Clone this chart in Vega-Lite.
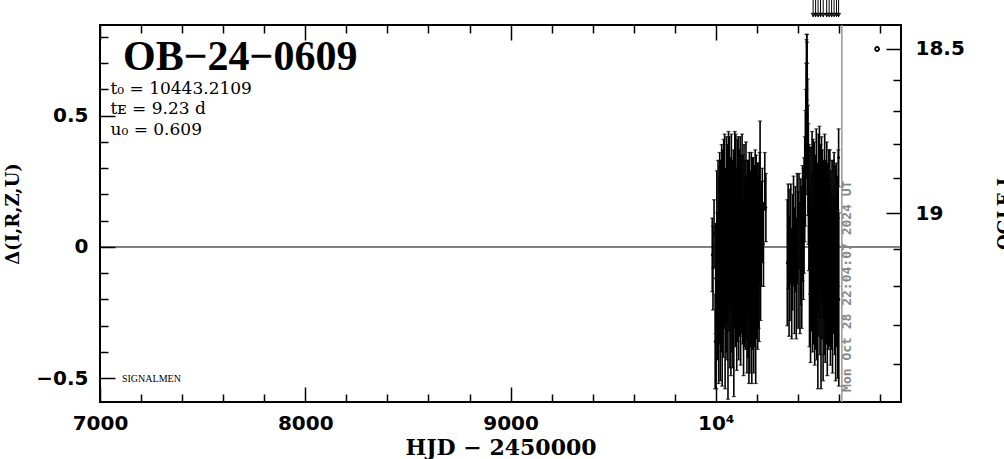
{
  "$schema": "https://vega.github.io/schema/vega-lite/v6.json",
  "width": 801,
  "height": 377,
  "autosize": {"type": "none"},
  "padding": {"left": 100, "top": 25, "right": 103, "bottom": 57},
  "background": "white",
  "data": {"values": [{}]},
  "config": {
    "view": {"stroke": "black", "strokeWidth": 2},
    "axis": {
      "domain": false, "grid": false, "tickColor": "black", "tickWidth": 1.5,
      "labelFont": "DejaVu Sans", "labelFontWeight": "bold", "labelFontSize": 20, "labelColor": "black",
      "titleFont": "DejaVu Serif", "titleFontWeight": "bold", "titleColor": "black",
      "labelFlush": false, "labelOverlap": false
    }
  },
  "datasets": {
    "obs": [
      {"t": 9982.4, "d": -0.03, "e": 0.14}, {"t": 9986.1, "d": -0.08, "e": 0.16}, {"t": 9991.3, "d": 0.05, "e": 0.13},
      {"t": 9996.7, "d": -0.36, "e": 0.18}, {"t": 9999.2, "d": -0.12, "e": 0.21}, {"t": 10001.5, "d": -0.30, "e": 0.24},
      {"t": 10004.8, "d": 0.02, "e": 0.27}, {"t": 10007.3, "d": -0.15, "e": 0.28}, {"t": 10010.9, "d": 0.08, "e": 0.25},
      {"t": 10013.6, "d": -0.22, "e": 0.30}, {"t": 10016.2, "d": -0.05, "e": 0.32}, {"t": 10018.8, "d": 0.10, "e": 0.26},
      {"t": 10021.4, "d": -0.18, "e": 0.33}, {"t": 10023.7, "d": 0.04, "e": 0.29}, {"t": 10026.1, "d": -0.09, "e": 0.31},
      {"t": 10028.5, "d": 0.15, "e": 0.24}, {"t": 10030.9, "d": -0.25, "e": 0.28}, {"t": 10033.2, "d": 0.02, "e": 0.35},
      {"t": 10035.6, "d": -0.12, "e": 0.30}, {"t": 10038.0, "d": 0.08, "e": 0.33}, {"t": 10040.3, "d": -0.04, "e": 0.27},
      {"t": 10042.7, "d": 0.13, "e": 0.30}, {"t": 10045.1, "d": -0.20, "e": 0.34}, {"t": 10047.4, "d": 0.01, "e": 0.29},
      {"t": 10049.8, "d": -0.07, "e": 0.33}, {"t": 10052.2, "d": 0.11, "e": 0.31}, {"t": 10054.5, "d": -0.15, "e": 0.28},
      {"t": 10056.9, "d": 0.05, "e": 0.34}, {"t": 10059.2, "d": -0.26, "e": 0.32}, {"t": 10061.6, "d": 0.12, "e": 0.32},
      {"t": 10064.0, "d": -0.02, "e": 0.30}, {"t": 10066.3, "d": 0.09, "e": 0.33}, {"t": 10068.7, "d": -0.11, "e": 0.35},
      {"t": 10071.1, "d": 0.06, "e": 0.28}, {"t": 10073.4, "d": -0.18, "e": 0.31}, {"t": 10075.8, "d": 0.14, "e": 0.29},
      {"t": 10078.2, "d": -0.06, "e": 0.34}, {"t": 10080.5, "d": 0.03, "e": 0.30}, {"t": 10082.9, "d": -0.14, "e": 0.32},
      {"t": 10085.3, "d": 0.10, "e": 0.27}, {"t": 10087.6, "d": -0.24, "e": 0.33}, {"t": 10090.0, "d": 0.00, "e": 0.31},
      {"t": 10092.4, "d": 0.08, "e": 0.36}, {"t": 10094.7, "d": -0.09, "e": 0.29}, {"t": 10097.1, "d": 0.12, "e": 0.31},
      {"t": 10099.5, "d": -0.03, "e": 0.33}, {"t": 10101.8, "d": -0.17, "e": 0.30}, {"t": 10104.2, "d": 0.06, "e": 0.35},
      {"t": 10106.6, "d": -0.08, "e": 0.28}, {"t": 10108.9, "d": 0.15, "e": 0.27}, {"t": 10111.3, "d": -0.12, "e": 0.31},
      {"t": 10113.7, "d": 0.04, "e": 0.33}, {"t": 10116.0, "d": -0.05, "e": 0.29}, {"t": 10118.4, "d": 0.10, "e": 0.32},
      {"t": 10120.8, "d": -0.15, "e": 0.30}, {"t": 10123.1, "d": 0.07, "e": 0.28}, {"t": 10125.5, "d": -0.02, "e": 0.31},
      {"t": 10127.9, "d": 0.13, "e": 0.30}, {"t": 10130.2, "d": -0.10, "e": 0.27}, {"t": 10132.6, "d": 0.02, "e": 0.33},
      {"t": 10135.0, "d": -0.20, "e": 0.29}, {"t": 10137.3, "d": 0.09, "e": 0.30}, {"t": 10139.7, "d": -0.06, "e": 0.32},
      {"t": 10142.1, "d": 0.05, "e": 0.28}, {"t": 10144.4, "d": -0.13, "e": 0.26}, {"t": 10146.8, "d": 0.11, "e": 0.29},
      {"t": 10149.2, "d": -0.04, "e": 0.31}, {"t": 10151.5, "d": -0.18, "e": 0.30}, {"t": 10153.9, "d": 0.06, "e": 0.27},
      {"t": 10156.3, "d": -0.09, "e": 0.33}, {"t": 10158.6, "d": 0.03, "e": 0.30}, {"t": 10161.0, "d": -0.21, "e": 0.31},
      {"t": 10163.4, "d": 0.08, "e": 0.28}, {"t": 10165.7, "d": -0.14, "e": 0.34}, {"t": 10168.1, "d": 0.00, "e": 0.29},
      {"t": 10170.5, "d": -0.07, "e": 0.31}, {"t": 10172.8, "d": 0.10, "e": 0.26}, {"t": 10175.2, "d": -0.19, "e": 0.33},
      {"t": 10177.6, "d": 0.04, "e": 0.30}, {"t": 10180.0, "d": -0.11, "e": 0.28}, {"t": 10182.3, "d": 0.07, "e": 0.27},
      {"t": 10184.7, "d": -0.16, "e": 0.32}, {"t": 10187.1, "d": 0.02, "e": 0.29}, {"t": 10189.4, "d": -0.08, "e": 0.30},
      {"t": 10191.8, "d": 0.06, "e": 0.31}, {"t": 10194.2, "d": -0.23, "e": 0.29}, {"t": 10196.5, "d": 0.09, "e": 0.26},
      {"t": 10198.9, "d": -0.05, "e": 0.30}, {"t": 10201.3, "d": 0.04, "e": 0.28}, {"t": 10203.6, "d": -0.12, "e": 0.27},
      {"t": 10206.0, "d": 0.08, "e": 0.24}, {"t": 10208.4, "d": -0.02, "e": 0.29}, {"t": 10210.7, "d": -0.10, "e": 0.26},
      {"t": 10213.1, "d": 0.11, "e": 0.25}, {"t": 10215.5, "d": 0.19, "e": 0.29}, {"t": 10217.8, "d": -0.06, "e": 0.22},
      {"t": 10221.2, "d": 0.05, "e": 0.20}, {"t": 10226.4, "d": 0.12, "e": 0.18}, {"t": 10232.0, "d": 0.01, "e": 0.16},
      {"t": 10238.5, "d": 0.25, "e": 0.11}, {"t": 10243.7, "d": 0.15, "e": 0.13},
      {"t": 10348.0, "d": -0.06, "e": 0.24}, {"t": 10352.3, "d": 0.04, "e": 0.20}, {"t": 10356.8, "d": -0.11, "e": 0.23},
      {"t": 10361.0, "d": -0.03, "e": 0.25}, {"t": 10365.2, "d": 0.05, "e": 0.19}, {"t": 10369.7, "d": -0.14, "e": 0.21},
      {"t": 10374.1, "d": -0.02, "e": 0.22}, {"t": 10378.5, "d": 0.06, "e": 0.21}, {"t": 10383.0, "d": -0.09, "e": 0.24},
      {"t": 10387.4, "d": 0.03, "e": 0.20}, {"t": 10391.9, "d": -0.12, "e": 0.23}, {"t": 10396.3, "d": 0.07, "e": 0.21},
      {"t": 10400.8, "d": -0.05, "e": 0.26}, {"t": 10405.2, "d": 0.10, "e": 0.18}, {"t": 10409.7, "d": -0.08, "e": 0.25},
      {"t": 10414.1, "d": 0.02, "e": 0.24}, {"t": 10418.6, "d": -0.04, "e": 0.27}, {"t": 10422.5, "d": 0.09, "e": 0.22},
      {"t": 10426.5, "d": 0.05, "e": 0.25}, {"t": 10429.8, "d": 0.12, "e": 0.22}, {"t": 10433.1, "d": 0.22, "e": 0.20},
      {"t": 10436.0, "d": 0.30, "e": 0.22}, {"t": 10438.2, "d": 0.40, "e": 0.20}, {"t": 10440.1, "d": 0.48, "e": 0.22},
      {"t": 10441.5, "d": 0.55, "e": 0.24}, {"t": 10442.6, "d": 0.58, "e": 0.23}, {"t": 10443.3, "d": 0.60, "e": 0.21},
      {"t": 10444.2, "d": 0.56, "e": 0.22}, {"t": 10445.4, "d": 0.50, "e": 0.20}, {"t": 10446.9, "d": 0.42, "e": 0.22},
      {"t": 10448.7, "d": 0.33, "e": 0.21}, {"t": 10450.9, "d": 0.24, "e": 0.23}, {"t": 10453.5, "d": 0.15, "e": 0.24},
      {"t": 10456.2, "d": -0.08, "e": 0.30}, {"t": 10458.7, "d": 0.10, "e": 0.28}, {"t": 10461.3, "d": -0.15, "e": 0.29},
      {"t": 10463.8, "d": 0.05, "e": 0.33}, {"t": 10466.4, "d": -0.02, "e": 0.30}, {"t": 10468.9, "d": 0.13, "e": 0.31},
      {"t": 10471.5, "d": -0.12, "e": 0.28}, {"t": 10474.0, "d": 0.07, "e": 0.34}, {"t": 10476.6, "d": -0.06, "e": 0.31},
      {"t": 10479.1, "d": 0.11, "e": 0.29}, {"t": 10481.7, "d": -0.18, "e": 0.27}, {"t": 10484.2, "d": 0.02, "e": 0.33},
      {"t": 10486.8, "d": -0.09, "e": 0.30}, {"t": 10489.3, "d": 0.14, "e": 0.31}, {"t": 10491.9, "d": -0.14, "e": 0.29},
      {"t": 10494.4, "d": 0.04, "e": 0.28}, {"t": 10497.0, "d": -0.22, "e": 0.32}, {"t": 10499.5, "d": 0.09, "e": 0.34},
      {"t": 10502.1, "d": -0.05, "e": 0.29}, {"t": 10504.6, "d": 0.15, "e": 0.31}, {"t": 10507.2, "d": -0.11, "e": 0.30},
      {"t": 10509.7, "d": 0.06, "e": 0.33}, {"t": 10512.3, "d": -0.20, "e": 0.34}, {"t": 10514.8, "d": 0.12, "e": 0.30},
      {"t": 10517.4, "d": -0.03, "e": 0.32}, {"t": 10519.9, "d": 0.08, "e": 0.29}, {"t": 10522.5, "d": -0.16, "e": 0.35},
      {"t": 10525.0, "d": 0.03, "e": 0.30}, {"t": 10527.6, "d": -0.08, "e": 0.33}, {"t": 10530.1, "d": 0.14, "e": 0.29},
      {"t": 10532.7, "d": -0.13, "e": 0.31}, {"t": 10535.2, "d": 0.05, "e": 0.28}, {"t": 10537.8, "d": -0.04, "e": 0.33},
      {"t": 10540.3, "d": 0.10, "e": 0.30}, {"t": 10542.9, "d": -0.19, "e": 0.30}, {"t": 10545.4, "d": 0.01, "e": 0.31},
      {"t": 10548.0, "d": -0.10, "e": 0.29}, {"t": 10550.5, "d": 0.07, "e": 0.30}, {"t": 10553.1, "d": -0.06, "e": 0.32},
      {"t": 10555.6, "d": 0.09, "e": 0.28}, {"t": 10558.2, "d": -0.15, "e": 0.30}, {"t": 10560.7, "d": 0.02, "e": 0.27},
      {"t": 10563.3, "d": -0.09, "e": 0.30}, {"t": 10565.8, "d": 0.06, "e": 0.27}, {"t": 10568.4, "d": -0.17, "e": 0.31},
      {"t": 10570.9, "d": 0.04, "e": 0.29}, {"t": 10573.5, "d": -0.07, "e": 0.26}, {"t": 10576.0, "d": 0.08, "e": 0.28},
      {"t": 10578.6, "d": -0.12, "e": 0.29}, {"t": 10581.1, "d": 0.00, "e": 0.31}, {"t": 10583.7, "d": -0.21, "e": 0.30},
      {"t": 10586.2, "d": 0.05, "e": 0.27}, {"t": 10588.8, "d": -0.10, "e": 0.28}, {"t": 10591.3, "d": -0.03, "e": 0.30},
      {"t": 10593.9, "d": -0.18, "e": 0.32}, {"t": 10596.4, "d": 0.11, "e": 0.26}, {"t": 10598.1, "d": 0.34, "e": 0.11},
      {"t": 10599.0, "d": -0.20, "e": 0.33}
    ],
    "arrows": [
      {"t": 10474}, {"t": 10486}, {"t": 10498}, {"t": 10510}, {"t": 10523}, {"t": 10540},
      {"t": 10552}, {"t": 10564}, {"t": 10576}, {"t": 10588}, {"t": 10598}
    ],
    "ogle": [{"t": 10785.6, "mag": 18.5}]
  },
  "resolve": {"scale": {"y": "independent"}, "axis": {"x": "independent", "y": "independent"}},
  "layer": [
    {
      "mark": {"type": "rule", "color": "black", "strokeWidth": 1},
      "encoding": {
        "y": {"datum": 0, "type": "quantitative", "scale": {"domain": [-0.5905, 0.8457], "nice": false, "zero": false}, "axis": null}
      }
    },
    {
      "mark": {"type": "rule", "color": "#999999", "strokeWidth": 1.5},
      "encoding": {
        "x": {
          "datum": 10614, "type": "quantitative",
          "scale": {"domain": [7000, 10902], "nice": false, "zero": false},
          "axis": {
            "orient": "top", "labels": false, "title": null,
            "values": [7000,7200,7400,7600,7800,8000,8200,8400,8600,8800,9000,9200,9400,9600,9800,10000,10200,10400,10600,10800],
            "tickSize": {"condition": {"test": "datum.value % 1000 == 0", "value": -15}, "value": -8}
          }
        }
      }
    },
    {
      "data": {"name": "obs"},
      "mark": {"type": "errorbar", "color": "black", "thickness": 1.6, "ticks": {"size": 4, "thickness": 1.2}},
      "encoding": {
        "x": {
          "field": "t", "type": "quantitative",
          "scale": {"domain": [7000, 10902], "nice": false, "zero": false},
          "axis": {
            "orient": "bottom",
            "values": [7000,7200,7400,7600,7800,8000,8200,8400,8600,8800,9000,9200,9400,9600,9800,10000,10200,10400,10600,10800],
            "tickSize": {"condition": {"test": "datum.value % 1000 == 0", "value": -15}, "value": -8},
            "labelExpr": "datum.value % 1000 == 0 ? (datum.value == 10000 ? '10⁴' : format(datum.value, 'd')) : ''",
            "labelPadding": 26,
            "title": "HJD  −  2450000", "titleFontSize": 22, "titleY": 52, "titleBaseline": "alphabetic"
          }
        },
        "y": {
          "field": "d", "type": "quantitative",
          "scale": {"domain": [-0.5905, 0.8457], "nice": false, "zero": false},
          "axis": {
            "orient": "left",
            "values": [-0.5,-0.4,-0.3,-0.2,-0.1,0,0.1,0.2,0.3,0.4,0.5,0.6,0.7,0.8],
            "tickSize": {"condition": {"test": "abs(datum.value*2 - round(datum.value*2)) < 0.001", "value": -15}, "value": -8},
            "labelExpr": "abs(datum.value*2 - round(datum.value*2)) < 0.001 ? format(datum.value, '~g') : ''",
            "labelPadding": 27,
            "title": "Δ(I,R,Z,U)", "titleFontSize": 18, "titleAngle": 270, "titleX": -82, "titleBaseline": "alphabetic"
          }
        },
        "yError": {"field": "e"}
      }
    },
    {
      "data": {"name": "obs"},
      "mark": {"type": "point", "filled": true, "color": "black", "size": 8, "opacity": 1},
      "encoding": {
        "x": {"field": "t", "type": "quantitative", "scale": {"domain": [7000, 10902], "nice": false, "zero": false}, "axis": null},
        "y": {"field": "d", "type": "quantitative", "scale": {"domain": [-0.5905, 0.8457], "nice": false, "zero": false}, "axis": null}
      }
    },
    {
      "data": {"name": "arrows"},
      "mark": {"type": "rule", "color": "black", "strokeWidth": 1},
      "encoding": {
        "x": {"field": "t", "type": "quantitative", "scale": {"domain": [7000, 10902], "nice": false, "zero": false}, "axis": null},
        "y": {"datum": 0.941, "type": "quantitative", "scale": {"domain": [-0.5905, 0.8457], "nice": false, "zero": false}, "axis": null},
        "y2": {"datum": 0.876}
      }
    },
    {
      "data": {"name": "arrows"},
      "mark": {"type": "point", "shape": "triangle-down", "filled": false, "color": "black", "strokeWidth": 1, "size": 14, "opacity": 1},
      "encoding": {
        "x": {"field": "t", "type": "quantitative", "scale": {"domain": [7000, 10902], "nice": false, "zero": false}, "axis": null},
        "y": {"datum": 0.884, "type": "quantitative", "scale": {"domain": [-0.5905, 0.8457], "nice": false, "zero": false}, "axis": null}
      }
    },
    {
      "mark": {"type": "text", "text": "OB−24−0609", "font": "Liberation Serif", "fontWeight": "bold", "fontSize": 42, "align": "left", "baseline": "alphabetic", "color": "black"},
      "encoding": {
        "x": {"datum": 7112, "type": "quantitative", "scale": {"domain": [7000, 10902], "nice": false, "zero": false}, "axis": null},
        "y": {"datum": 0.6743, "type": "quantitative", "scale": {"domain": [-0.5905, 0.8457], "nice": false, "zero": false}, "axis": null}
      }
    },
    {
      "mark": {"type": "text", "text": "t₀ = 10443.2109", "font": "DejaVu Serif", "fontSize": 17, "align": "left", "baseline": "alphabetic", "color": "black"},
      "encoding": {
        "x": {"datum": 7051, "type": "quantitative", "scale": {"domain": [7000, 10902], "nice": false, "zero": false}, "axis": null},
        "y": {"datum": 0.5829, "type": "quantitative", "scale": {"domain": [-0.5905, 0.8457], "nice": false, "zero": false}, "axis": null}
      }
    },
    {
      "mark": {"type": "text", "text": "tᴇ = 9.23 d", "font": "DejaVu Serif", "fontSize": 17, "align": "left", "baseline": "alphabetic", "color": "black"},
      "encoding": {
        "x": {"datum": 7051, "type": "quantitative", "scale": {"domain": [7000, 10902], "nice": false, "zero": false}, "axis": null},
        "y": {"datum": 0.5067, "type": "quantitative", "scale": {"domain": [-0.5905, 0.8457], "nice": false, "zero": false}, "axis": null}
      }
    },
    {
      "mark": {"type": "text", "text": "u₀ = 0.609", "font": "DejaVu Serif", "fontSize": 17, "align": "left", "baseline": "alphabetic", "color": "black"},
      "encoding": {
        "x": {"datum": 7051, "type": "quantitative", "scale": {"domain": [7000, 10902], "nice": false, "zero": false}, "axis": null},
        "y": {"datum": 0.4267, "type": "quantitative", "scale": {"domain": [-0.5905, 0.8457], "nice": false, "zero": false}, "axis": null}
      }
    },
    {
      "mark": {"type": "text", "text": "SIGNALMEN", "font": "Liberation Serif", "fontSize": 10, "align": "left", "baseline": "middle", "color": "black"},
      "encoding": {
        "x": {"datum": 7107, "type": "quantitative", "scale": {"domain": [7000, 10902], "nice": false, "zero": false}, "axis": null},
        "y": {"datum": -0.501, "type": "quantitative", "scale": {"domain": [-0.5905, 0.8457], "nice": false, "zero": false}, "axis": null}
      }
    },
    {
      "mark": {"type": "text", "text": "Mon Oct 28 22:04:07 2024 UT", "font": "DejaVu Sans Mono", "fontWeight": "bold", "fontSize": 13, "angle": 270, "align": "left", "baseline": "middle", "color": "#888888"},
      "encoding": {
        "x": {"datum": 10641, "type": "quantitative", "scale": {"domain": [7000, 10902], "nice": false, "zero": false}, "axis": null},
        "y": {"datum": -0.552, "type": "quantitative", "scale": {"domain": [-0.5905, 0.8457], "nice": false, "zero": false}, "axis": null}
      }
    },
    {
      "data": {"name": "ogle"},
      "mark": {"type": "point", "filled": false, "color": "black", "strokeWidth": 1.8, "size": 16, "opacity": 1},
      "encoding": {
        "x": {"field": "t", "type": "quantitative", "scale": {"domain": [7000, 10902], "nice": false, "zero": false}, "axis": null},
        "y": {
          "field": "mag", "type": "quantitative",
          "scale": {"type": "pow", "exponent": 7, "domain": [18.4196, 19.4926], "reverse": true, "nice": false, "zero": false},
          "axis": {
            "orient": "right",
            "values": [18.5,18.6,18.7,18.8,18.9,19,19.1,19.2,19.3,19.4],
            "tickSize": {"condition": {"test": "datum.value == 18.5 || datum.value == 19", "value": -15}, "value": -8},
            "labelExpr": "datum.value == 18.5 ? '18.5' : (datum.value == 19 ? '19' : '')",
            "labelPadding": 29, "labelAlign": "left",
            "title": "OGLE I", "titleFontSize": 18, "titleAngle": 270, "titleX": 109, "titleBaseline": "alphabetic"
          }
        }
      }
    }
  ]
}
